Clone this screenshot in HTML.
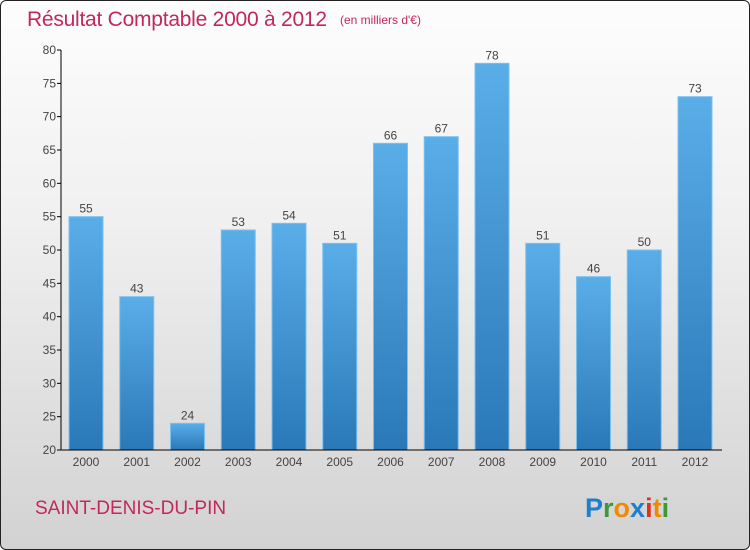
<!DOCTYPE html>
<html><head><meta charset="utf-8"><style>
html,body{margin:0;padding:0}
body{width:750px;height:550px;overflow:hidden;font-family:"Liberation Sans",sans-serif}
#frame{position:absolute;left:0;top:0;width:748px;height:548px;border:1px solid #222;border-radius:6px;background:linear-gradient(#fdfdfd,#f0f0f0 40%,#d2d2d2);overflow:hidden}
</style></head><body>
<div id="frame">
<svg width="750" height="550" style="position:absolute;left:-1px;top:-1px">
<defs><linearGradient id="bg" x1="0" y1="0" x2="0" y2="1"><stop offset="0" stop-color="#5aaee8"/><stop offset="1" stop-color="#2a78b8"/></linearGradient></defs>
<text x="27" y="26" font-size="21" fill="#c2285a" textLength="300">Résultat Comptable 2000 à 2012</text>
<text x="340" y="24" font-size="12" fill="#c2285a">(en milliers d'€)</text>
<g id="yaxis"></g>
<g id="bars"></g>
<g id="xaxis"></g>
<text x="35" y="514" font-size="19" fill="#c2285a">SAINT-DENIS-DU-PIN</text>
<g font-size="27" font-weight="bold" font-family="Liberation Sans, sans-serif">
<text x="585" y="517"><tspan fill="#1e7fd0">P</tspan><tspan fill="#3a9a3a">r</tspan><tspan fill="#f08a00">o</tspan><tspan fill="#1e7fd0">x</tspan><tspan fill="#e03020">i</tspan><tspan fill="#f08a00">t</tspan><tspan fill="#3a9a3a">i</tspan></text>
</g>
</svg>
</div>
<script>
const years=["2000","2001","2002","2003","2004","2005","2006","2007","2008","2009","2010","2011","2012"];
const values=[55,43,24,53,54,51,66,67,78,51,46,50,73];
const yTicks=[20,25,30,35,40,45,50,55,60,65,70,75,80];
const NS="http://www.w3.org/2000/svg";
const yMin=20,yMax=80,pTop=50,pBot=450,pLeft=61,pRight=722;
function ys(v){return pBot-(v-yMin)/(yMax-yMin)*(pBot-pTop);}
function xs(i){return 86+i*50.75;}
function mk(t,a,p){const e=document.createElementNS(NS,t);for(const k in a)e.setAttribute(k,a[k]);p.appendChild(e);return e;}
const ya=document.getElementById('yaxis'),ba=document.getElementById('bars'),xa=document.getElementById('xaxis');
let l=mk('line',{x1:pLeft,y1:pTop,x2:pLeft,y2:pBot,stroke:'#000'},ya);


yTicks.forEach(v=>{
 const t=mk('line',{x1:pLeft-4,y1:ys(v),x2:pLeft,y2:ys(v),stroke:'#000'},ya);
 
 
 const tx=mk('text',{x:pLeft-5,y:ys(v)+4,'text-anchor':'end','font-size':12,fill:'#444'},ya);
 tx.textContent=v;
 
 
});
values.forEach((v,i)=>{
 const r=mk('rect',{x:xs(i)-17,y:ys(v),width:34,height:pBot-ys(v),fill:'url(#bg)',stroke:'#7cc0f0','stroke-width':1},ba);
 
 
 const t=mk('text',{x:xs(i),y:ys(v)-4,'text-anchor':'middle','font-size':12,fill:'#444'},ba);
 t.textContent=v;
 
 
 const xl=mk('text',{x:xs(i),y:pBot+16,'text-anchor':'middle','font-size':12,fill:'#444'},xa);
 xl.textContent=years[i];
 
 
});
l=mk('line',{x1:pLeft,y1:pBot,x2:pRight,y2:pBot,stroke:'#000'},xa);


</script>
</body></html>
